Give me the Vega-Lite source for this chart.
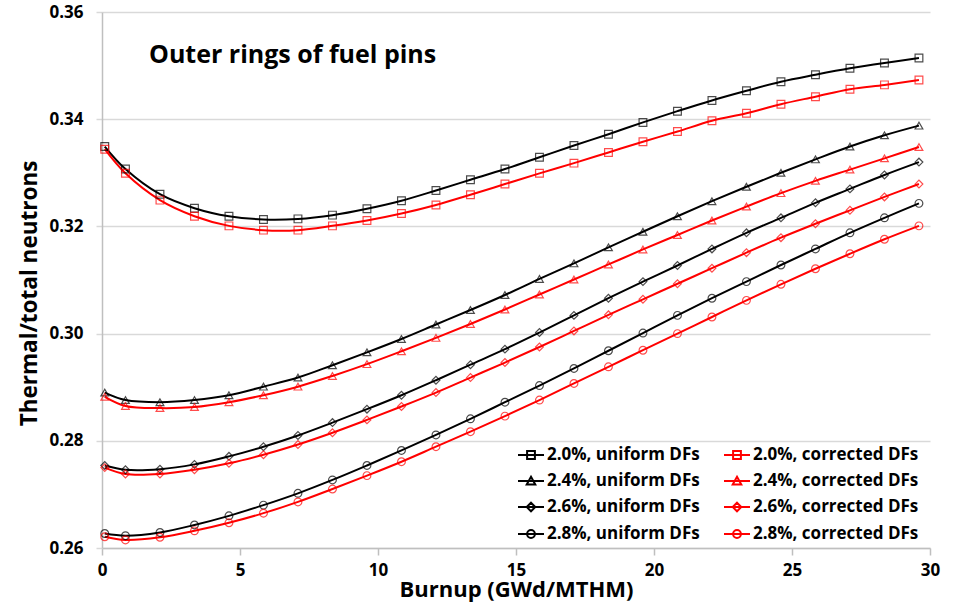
{
"$schema": "https://vega.github.io/schema/vega-lite/v6.json",
"width": 828, "height": 536,
"autosize": {"type": "none"},
"padding": {"left": 102, "top": 12, "right": 28, "bottom": 62},
"background": "white",
"title": {"text": "Outer rings of fuel pins", "anchor": "start", "frame": "group", "orient": "top", "offset": 0, "baseline": "alphabetic", "dx": 47, "dy": 85, "font": "Open Sans", "fontSize": 25, "fontWeight": "bold", "color": "black"},
"config": {"view": {"stroke": null}, "font": "Open Sans"},
"data": {"values": [
{"b":0.1,"s":"2.0%, uniform DFs","v":0.3349},{"b":0.85,"s":"2.0%, uniform DFs","v":0.3307},{"b":2.1,"s":"2.0%, uniform DFs","v":0.3260},{"b":3.35,"s":"2.0%, uniform DFs","v":0.3234},{"b":4.6,"s":"2.0%, uniform DFs","v":0.3219},{"b":5.85,"s":"2.0%, uniform DFs","v":0.3213},{"b":7.1,"s":"2.0%, uniform DFs","v":0.3214},{"b":8.35,"s":"2.0%, uniform DFs","v":0.3221},{"b":9.6,"s":"2.0%, uniform DFs","v":0.3233},{"b":10.85,"s":"2.0%, uniform DFs","v":0.3248},{"b":12.1,"s":"2.0%, uniform DFs","v":0.3267},{"b":13.35,"s":"2.0%, uniform DFs","v":0.3287},{"b":14.6,"s":"2.0%, uniform DFs","v":0.3307},{"b":15.85,"s":"2.0%, uniform DFs","v":0.3329},{"b":17.1,"s":"2.0%, uniform DFs","v":0.3351},{"b":18.35,"s":"2.0%, uniform DFs","v":0.3372},{"b":19.6,"s":"2.0%, uniform DFs","v":0.3394},{"b":20.85,"s":"2.0%, uniform DFs","v":0.3415},{"b":22.1,"s":"2.0%, uniform DFs","v":0.3435},{"b":23.35,"s":"2.0%, uniform DFs","v":0.3453},{"b":24.6,"s":"2.0%, uniform DFs","v":0.3470},{"b":25.85,"s":"2.0%, uniform DFs","v":0.3483},{"b":27.1,"s":"2.0%, uniform DFs","v":0.3495},{"b":28.35,"s":"2.0%, uniform DFs","v":0.3505},{"b":29.6,"s":"2.0%, uniform DFs","v":0.3514},
{"b":0.1,"s":"2.0%, corrected DFs","v":0.3344},{"b":0.85,"s":"2.0%, corrected DFs","v":0.3299},{"b":2.1,"s":"2.0%, corrected DFs","v":0.3249},{"b":3.35,"s":"2.0%, corrected DFs","v":0.3219},{"b":4.6,"s":"2.0%, corrected DFs","v":0.3201},{"b":5.85,"s":"2.0%, corrected DFs","v":0.3193},{"b":7.1,"s":"2.0%, corrected DFs","v":0.3193},{"b":8.35,"s":"2.0%, corrected DFs","v":0.3201},{"b":9.6,"s":"2.0%, corrected DFs","v":0.3211},{"b":10.85,"s":"2.0%, corrected DFs","v":0.3224},{"b":12.1,"s":"2.0%, corrected DFs","v":0.3240},{"b":13.35,"s":"2.0%, corrected DFs","v":0.3259},{"b":14.6,"s":"2.0%, corrected DFs","v":0.3279},{"b":15.85,"s":"2.0%, corrected DFs","v":0.3299},{"b":17.1,"s":"2.0%, corrected DFs","v":0.3318},{"b":18.35,"s":"2.0%, corrected DFs","v":0.3338},{"b":19.6,"s":"2.0%, corrected DFs","v":0.3358},{"b":20.85,"s":"2.0%, corrected DFs","v":0.3377},{"b":22.1,"s":"2.0%, corrected DFs","v":0.3397},{"b":23.35,"s":"2.0%, corrected DFs","v":0.3411},{"b":24.6,"s":"2.0%, corrected DFs","v":0.3428},{"b":25.85,"s":"2.0%, corrected DFs","v":0.3442},{"b":27.1,"s":"2.0%, corrected DFs","v":0.3456},{"b":28.35,"s":"2.0%, corrected DFs","v":0.3464},{"b":29.6,"s":"2.0%, corrected DFs","v":0.3473},
{"b":0.1,"s":"2.4%, uniform DFs","v":0.2890},{"b":0.85,"s":"2.4%, uniform DFs","v":0.2876},{"b":2.1,"s":"2.4%, uniform DFs","v":0.2872},{"b":3.35,"s":"2.4%, uniform DFs","v":0.2876},{"b":4.6,"s":"2.4%, uniform DFs","v":0.2885},{"b":5.85,"s":"2.4%, uniform DFs","v":0.2901},{"b":7.1,"s":"2.4%, uniform DFs","v":0.2918},{"b":8.35,"s":"2.4%, uniform DFs","v":0.2941},{"b":9.6,"s":"2.4%, uniform DFs","v":0.2965},{"b":10.85,"s":"2.4%, uniform DFs","v":0.2990},{"b":12.1,"s":"2.4%, uniform DFs","v":0.3017},{"b":13.35,"s":"2.4%, uniform DFs","v":0.3044},{"b":14.6,"s":"2.4%, uniform DFs","v":0.3072},{"b":15.85,"s":"2.4%, uniform DFs","v":0.3102},{"b":17.1,"s":"2.4%, uniform DFs","v":0.3131},{"b":18.35,"s":"2.4%, uniform DFs","v":0.3161},{"b":19.6,"s":"2.4%, uniform DFs","v":0.3190},{"b":20.85,"s":"2.4%, uniform DFs","v":0.3219},{"b":22.1,"s":"2.4%, uniform DFs","v":0.3247},{"b":23.35,"s":"2.4%, uniform DFs","v":0.3274},{"b":24.6,"s":"2.4%, uniform DFs","v":0.3300},{"b":25.85,"s":"2.4%, uniform DFs","v":0.3325},{"b":27.1,"s":"2.4%, uniform DFs","v":0.3349},{"b":28.35,"s":"2.4%, uniform DFs","v":0.3370},{"b":29.6,"s":"2.4%, uniform DFs","v":0.3388},
{"b":0.1,"s":"2.4%, corrected DFs","v":0.2882},{"b":0.85,"s":"2.4%, corrected DFs","v":0.2865},{"b":2.1,"s":"2.4%, corrected DFs","v":0.2861},{"b":3.35,"s":"2.4%, corrected DFs","v":0.2863},{"b":4.6,"s":"2.4%, corrected DFs","v":0.2872},{"b":5.85,"s":"2.4%, corrected DFs","v":0.2885},{"b":7.1,"s":"2.4%, corrected DFs","v":0.2901},{"b":8.35,"s":"2.4%, corrected DFs","v":0.2921},{"b":9.6,"s":"2.4%, corrected DFs","v":0.2943},{"b":10.85,"s":"2.4%, corrected DFs","v":0.2967},{"b":12.1,"s":"2.4%, corrected DFs","v":0.2992},{"b":13.35,"s":"2.4%, corrected DFs","v":0.3018},{"b":14.6,"s":"2.4%, corrected DFs","v":0.3045},{"b":15.85,"s":"2.4%, corrected DFs","v":0.3073},{"b":17.1,"s":"2.4%, corrected DFs","v":0.3101},{"b":18.35,"s":"2.4%, corrected DFs","v":0.3129},{"b":19.6,"s":"2.4%, corrected DFs","v":0.3157},{"b":20.85,"s":"2.4%, corrected DFs","v":0.3184},{"b":22.1,"s":"2.4%, corrected DFs","v":0.3211},{"b":23.35,"s":"2.4%, corrected DFs","v":0.3237},{"b":24.6,"s":"2.4%, corrected DFs","v":0.3262},{"b":25.85,"s":"2.4%, corrected DFs","v":0.3285},{"b":27.1,"s":"2.4%, corrected DFs","v":0.3306},{"b":28.35,"s":"2.4%, corrected DFs","v":0.3327},{"b":29.6,"s":"2.4%, corrected DFs","v":0.3348},
{"b":0.1,"s":"2.6%, uniform DFs","v":0.2754},{"b":0.85,"s":"2.6%, uniform DFs","v":0.2746},{"b":2.1,"s":"2.6%, uniform DFs","v":0.2747},{"b":3.35,"s":"2.6%, uniform DFs","v":0.2756},{"b":4.6,"s":"2.6%, uniform DFs","v":0.2771},{"b":5.85,"s":"2.6%, uniform DFs","v":0.2789},{"b":7.1,"s":"2.6%, uniform DFs","v":0.2810},{"b":8.35,"s":"2.6%, uniform DFs","v":0.2834},{"b":9.6,"s":"2.6%, uniform DFs","v":0.2859},{"b":10.85,"s":"2.6%, uniform DFs","v":0.2885},{"b":12.1,"s":"2.6%, uniform DFs","v":0.2913},{"b":13.35,"s":"2.6%, uniform DFs","v":0.2942},{"b":14.6,"s":"2.6%, uniform DFs","v":0.2971},{"b":15.85,"s":"2.6%, uniform DFs","v":0.3002},{"b":17.1,"s":"2.6%, uniform DFs","v":0.3034},{"b":18.35,"s":"2.6%, uniform DFs","v":0.3066},{"b":19.6,"s":"2.6%, uniform DFs","v":0.3097},{"b":20.85,"s":"2.6%, uniform DFs","v":0.3127},{"b":22.1,"s":"2.6%, uniform DFs","v":0.3158},{"b":23.35,"s":"2.6%, uniform DFs","v":0.3188},{"b":24.6,"s":"2.6%, uniform DFs","v":0.3216},{"b":25.85,"s":"2.6%, uniform DFs","v":0.3244},{"b":27.1,"s":"2.6%, uniform DFs","v":0.3270},{"b":28.35,"s":"2.6%, uniform DFs","v":0.3296},{"b":29.6,"s":"2.6%, uniform DFs","v":0.3320},
{"b":0.1,"s":"2.6%, corrected DFs","v":0.2750},{"b":0.85,"s":"2.6%, corrected DFs","v":0.2738},{"b":2.1,"s":"2.6%, corrected DFs","v":0.2738},{"b":3.35,"s":"2.6%, corrected DFs","v":0.2746},{"b":4.6,"s":"2.6%, corrected DFs","v":0.2758},{"b":5.85,"s":"2.6%, corrected DFs","v":0.2774},{"b":7.1,"s":"2.6%, corrected DFs","v":0.2793},{"b":8.35,"s":"2.6%, corrected DFs","v":0.2815},{"b":9.6,"s":"2.6%, corrected DFs","v":0.2839},{"b":10.85,"s":"2.6%, corrected DFs","v":0.2864},{"b":12.1,"s":"2.6%, corrected DFs","v":0.2890},{"b":13.35,"s":"2.6%, corrected DFs","v":0.2918},{"b":14.6,"s":"2.6%, corrected DFs","v":0.2946},{"b":15.85,"s":"2.6%, corrected DFs","v":0.2975},{"b":17.1,"s":"2.6%, corrected DFs","v":0.3005},{"b":18.35,"s":"2.6%, corrected DFs","v":0.3035},{"b":19.6,"s":"2.6%, corrected DFs","v":0.3064},{"b":20.85,"s":"2.6%, corrected DFs","v":0.3093},{"b":22.1,"s":"2.6%, corrected DFs","v":0.3122},{"b":23.35,"s":"2.6%, corrected DFs","v":0.3151},{"b":24.6,"s":"2.6%, corrected DFs","v":0.3179},{"b":25.85,"s":"2.6%, corrected DFs","v":0.3205},{"b":27.1,"s":"2.6%, corrected DFs","v":0.3230},{"b":28.35,"s":"2.6%, corrected DFs","v":0.3255},{"b":29.6,"s":"2.6%, corrected DFs","v":0.3279},
{"b":0.1,"s":"2.8%, uniform DFs","v":0.2627},{"b":0.85,"s":"2.8%, uniform DFs","v":0.2623},{"b":2.1,"s":"2.8%, uniform DFs","v":0.2629},{"b":3.35,"s":"2.8%, uniform DFs","v":0.2643},{"b":4.6,"s":"2.8%, uniform DFs","v":0.2660},{"b":5.85,"s":"2.8%, uniform DFs","v":0.2680},{"b":7.1,"s":"2.8%, uniform DFs","v":0.2702},{"b":8.35,"s":"2.8%, uniform DFs","v":0.2727},{"b":9.6,"s":"2.8%, uniform DFs","v":0.2754},{"b":10.85,"s":"2.8%, uniform DFs","v":0.2782},{"b":12.1,"s":"2.8%, uniform DFs","v":0.2811},{"b":13.35,"s":"2.8%, uniform DFs","v":0.2841},{"b":14.6,"s":"2.8%, uniform DFs","v":0.2872},{"b":15.85,"s":"2.8%, uniform DFs","v":0.2903},{"b":17.1,"s":"2.8%, uniform DFs","v":0.2935},{"b":18.35,"s":"2.8%, uniform DFs","v":0.2968},{"b":19.6,"s":"2.8%, uniform DFs","v":0.3001},{"b":20.85,"s":"2.8%, uniform DFs","v":0.3034},{"b":22.1,"s":"2.8%, uniform DFs","v":0.3066},{"b":23.35,"s":"2.8%, uniform DFs","v":0.3097},{"b":24.6,"s":"2.8%, uniform DFs","v":0.3128},{"b":25.85,"s":"2.8%, uniform DFs","v":0.3158},{"b":27.1,"s":"2.8%, uniform DFs","v":0.3188},{"b":28.35,"s":"2.8%, uniform DFs","v":0.3216},{"b":29.6,"s":"2.8%, uniform DFs","v":0.3243},
{"b":0.1,"s":"2.8%, corrected DFs","v":0.2621},{"b":0.85,"s":"2.8%, corrected DFs","v":0.2615},{"b":2.1,"s":"2.8%, corrected DFs","v":0.2620},{"b":3.35,"s":"2.8%, corrected DFs","v":0.2632},{"b":4.6,"s":"2.8%, corrected DFs","v":0.2647},{"b":5.85,"s":"2.8%, corrected DFs","v":0.2665},{"b":7.1,"s":"2.8%, corrected DFs","v":0.2686},{"b":8.35,"s":"2.8%, corrected DFs","v":0.2710},{"b":9.6,"s":"2.8%, corrected DFs","v":0.2735},{"b":10.85,"s":"2.8%, corrected DFs","v":0.2761},{"b":12.1,"s":"2.8%, corrected DFs","v":0.2789},{"b":13.35,"s":"2.8%, corrected DFs","v":0.2817},{"b":14.6,"s":"2.8%, corrected DFs","v":0.2846},{"b":15.85,"s":"2.8%, corrected DFs","v":0.2876},{"b":17.1,"s":"2.8%, corrected DFs","v":0.2907},{"b":18.35,"s":"2.8%, corrected DFs","v":0.2938},{"b":19.6,"s":"2.8%, corrected DFs","v":0.2969},{"b":20.85,"s":"2.8%, corrected DFs","v":0.3000},{"b":22.1,"s":"2.8%, corrected DFs","v":0.3031},{"b":23.35,"s":"2.8%, corrected DFs","v":0.3062},{"b":24.6,"s":"2.8%, corrected DFs","v":0.3092},{"b":25.85,"s":"2.8%, corrected DFs","v":0.3121},{"b":27.1,"s":"2.8%, corrected DFs","v":0.3149},{"b":28.35,"s":"2.8%, corrected DFs","v":0.3176},{"b":29.6,"s":"2.8%, corrected DFs","v":0.3201}
]},
"encoding": {
  "x": {"field": "b", "type": "quantitative", "scale": {"domain": [0, 30], "nice": false},
    "axis": {"values": [0,5,10,15,20,25,30], "grid": false, "domainColor": "#bfbfbf", "domainWidth": 1.5, "tickColor": "#bfbfbf", "tickSize": 7, "tickWidth": 1.5, "labelFont": "Open Sans", "labelFontSize": 17, "labelFontWeight": "bold", "labelColor": "black", "labelPadding": 7, "labelFlush": false, "title": "Burnup (GWd/MTHM)", "titleFont": "Open Sans", "titleFontSize": 22, "titleFontWeight": "bold", "titleColor": "black", "titlePadding": 1}},
  "y": {"field": "v", "type": "quantitative", "scale": {"domain": [0.26, 0.36], "nice": false, "zero": false},
    "axis": {"values": [0.26,0.28,0.30,0.32,0.34,0.36], "format": ".2f", "grid": true, "gridColor": "#d9d9d9", "gridWidth": 1.5, "domainColor": "#bfbfbf", "domainWidth": 1.5, "tickColor": "#d9d9d9", "tickSize": 6, "tickWidth": 1.5, "labelFont": "Open Sans", "labelFontSize": 17, "labelFontWeight": "bold", "labelColor": "black", "labelPadding": 13, "labelFlush": false, "title": "Thermal/total neutrons", "titleFont": "Open Sans", "titleFontSize": 22.5, "titleFontWeight": "bold", "titleColor": "black", "titlePadding": 7, "titleY": 281}}
},
"layer": [
  {"mark": {"type": "line", "interpolate": "catmull-rom", "strokeWidth": 2},
   "encoding": {"color": {"field": "s", "type": "nominal",
     "scale": {"domain": ["2.0%, uniform DFs","2.4%, uniform DFs","2.6%, uniform DFs","2.8%, uniform DFs","2.0%, corrected DFs","2.4%, corrected DFs","2.6%, corrected DFs","2.8%, corrected DFs"], "range": ["#000000","#000000","#000000","#000000","#ff0000","#ff0000","#ff0000","#ff0000"]},
     "legend": {"title": null, "orient": "none", "legendX": 415, "legendY": 429, "columns": 2, "columnPadding": 20, "rowPadding": 4, "labelFont": "Open Sans", "labelFontSize": 17, "labelFontWeight": "bold", "labelColor": "black", "labelLimit": 400, "labelOffset": 2, "symbolSize": 676, "symbolStrokeWidth": 2,
       "encode": {"symbols": {"update": {"shape": {"signal": "substring(datum.value,0,3)=='2.0' ? 'M-1,0H1M-0.3,-0.3H0.3V0.3H-0.3Z' : substring(datum.value,0,3)=='2.4' ? 'M-1,0H1M0,-0.33L0.33,0.27H-0.33Z' : substring(datum.value,0,3)=='2.6' ? 'M-1,0H1M0,-0.33L0.33,0L0,0.33L-0.33,0Z' : 'M-1,0H1M-0.3,0A0.3,0.3 0 1,0 0.3,0A0.3,0.3 0 1,0 -0.3,0Z'"}, "fill": {"value": "transparent"}, "strokeWidth": {"value": 2}}}}}}}},
  {"mark": {"type": "point", "filled": false, "size": 60, "strokeWidth": 1.2},
   "encoding": {
     "stroke": {"condition": {"test": "indexof(datum.s,'corrected')>=0", "value": "#ff0000"}, "value": "#000000"},
     "shape": {"condition": [{"test": "indexof(datum.s,'2.0%')==0", "value": "square"}, {"test": "indexof(datum.s,'2.4%')==0", "value": "triangle-up"}, {"test": "indexof(datum.s,'2.6%')==0", "value": "diamond"}], "value": "circle"}
   }}
]
}
